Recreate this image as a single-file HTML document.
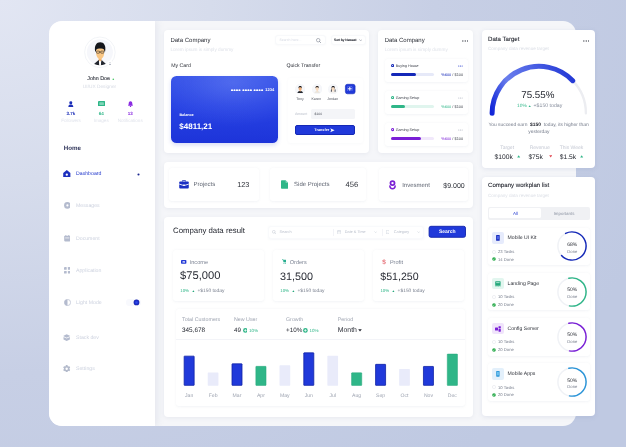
<!DOCTYPE html>
<html lang="en"><head><meta charset="utf-8"><title>Dashboard</title>
<style>
html,body{margin:0;padding:0}
body{width:626px;height:447px;position:relative;overflow:hidden;font-family:"Liberation Sans",sans-serif;
background:radial-gradient(ellipse 112% 135% at 0% 0%,#e2e6f3 0%,#d6dcec 30%,#c7cfe5 62%,#bfc9e2 100%);}
.b{position:absolute;box-sizing:border-box}
.t{position:absolute;white-space:nowrap;line-height:1;letter-spacing:0;text-rendering:geometricPrecision}
.card{position:absolute;background:#fff;border-radius:4px;box-shadow:0 1px 4px rgba(120,130,160,.10)}
.inner{position:absolute;box-sizing:border-box;background:#fff;border-radius:3px;box-shadow:0 0.5px 2.5px rgba(120,130,165,.085)}
</style></head><body><div id="root" style="position:absolute;left:0;top:0;width:626px;height:447px;will-change:transform">
<div class="b" style="left:49px;top:21px;width:526.5px;height:404.5px;border-radius:13px;background:#f5f6f9;overflow:hidden">
<div class="b" style="left:0;top:0;width:106px;height:404.5px;background:#fff;box-shadow:2px 0 7px rgba(140,150,180,.16)"></div>
</div>
<svg class="b" style="left:80px;top:33px;" width="40" height="40" viewBox="80 33 40 40">
<circle cx="99.9" cy="52.3" r="15.3" fill="#fff" stroke="#eff1f5" stroke-width="0.8"/>
<circle cx="99.9" cy="52.3" r="13" fill="#f6f7fb"/>
<clipPath id="av"><circle cx="99.9" cy="52.3" r="13"/></clipPath>
<g clip-path="url(#av)">
<path d="M93.3 65.9 L93.5 64.4 L98.9 59.7 L99.5 65.9 Z" fill="#22262e"/>
<path d="M106.7 65.9 L106.5 64.4 L101.3 59.7 L100.7 65.9 Z" fill="#22262e"/>
<path d="M98.9 59.7 L101.3 59.7 L100.7 65.9 L99.5 65.9 Z" fill="#fff"/>
<path d="M98.7 57.4 H101.5 V60.2 L100.1 61.6 L98.7 60.2 Z" fill="#f2b26c"/>
<path d="M96.1 50.2 C96.1 47.4 104.2 47.4 104.2 50.2 L104.1 54 C103.9 57 101.6 59.2 100.15 59.2 C98.7 59.2 96.4 57 96.2 54 Z" fill="#f9c684"/>
<path d="M95.2 51.6 C94 45.6 96.6 42.3 100.2 42.3 C103.9 42.3 106.3 45.6 105.1 51.6 L104.3 51.6 C104.5 49.2 103.6 48.3 100.2 48.5 C96.9 48.3 95.8 49.2 96 51.6 Z" fill="#14161b"/>
<rect x="96.5" y="51.1" width="3" height="2.1" rx="0.5" fill="none" stroke="#15171c" stroke-width="0.5"/>
<rect x="100.8" y="51.1" width="3" height="2.1" rx="0.5" fill="none" stroke="#15171c" stroke-width="0.5"/>
<path d="M99.5 52 H100.8" stroke="#15171c" stroke-width="0.4"/>
</g>
<circle cx="110" cy="63.6" r="2.9" fill="#fff"/>
<circle cx="110" cy="62.7" r="0.55" fill="#a7adba"/><path d="M109 64.9 C109 63.6 111 63.6 111 64.9 Z" fill="#a7adba"/>
</svg>
<span class="t" style="left:98.6px;top:79.5px;font-size:5.3px;color:#343842;font-weight:400;transform:translate(-50%,-50%);-webkit-text-stroke:0.12px currentColor;">John Doe</span>
<svg class="b" style="left:112.1px;top:77.5px;" width="2.6" height="2.6" viewBox="0 0 2.6 2.6"><circle cx="1.3" cy="1.25" r="0.8" fill="#4cc86a"/></svg>
<span class="t" style="left:99.5px;top:88.0px;font-size:4.8px;color:#d5d9e3;font-weight:400;transform:translate(-50%,-50%);">UI/UX Designer</span>
<svg class="b" style="left:68.1px;top:100.5px;" width="5.6" height="6.4" viewBox="0 0 5.6 6.4"><circle cx="2.8" cy="1.65" r="1.5" fill="#1c2fb8"/><path d="M0.3 6.1 C0.3 4 1.5 3.5 2.8 3.5 C4.1 3.5 5.3 4 5.3 6.1 Z" fill="#1c2fb8"/></svg>
<svg class="b" style="left:97.7px;top:100.7px;" width="7.2" height="5.8" viewBox="0 0 7.2 5.8"><rect x="0" y="0" width="7.2" height="5.8" rx="0.9" fill="#2fb688"/><rect x="1.3" y="1.3" width="4.6" height="2.6" rx="0.5" fill="#7fd6b8"/></svg>
<svg class="b" style="left:127.9px;top:100.5px;" width="5" height="6.4" viewBox="0 0 5 6.4"><path d="M2.5 0.2 C3.9 0.2 4.3 1.4 4.3 2.5 C4.3 3.7 4.8 4.2 4.9 4.7 L0.1 4.7 C0.2 4.2 0.7 3.7 0.7 2.5 C0.7 1.4 1.1 0.2 2.5 0.2 Z" fill="#8a2be2"/><circle cx="2.5" cy="5.5" r="0.7" fill="#8a2be2"/></svg>
<span class="t" style="left:71px;top:113.8px;font-size:4.5px;color:#1c2fb8;font-weight:700;transform:translate(-50%,-50%);">3.7k</span>
<span class="t" style="left:101.2px;top:113.8px;font-size:4.5px;color:#2fb688;font-weight:700;transform:translate(-50%,-50%);">64</span>
<span class="t" style="left:130.2px;top:113.8px;font-size:4.5px;color:#8a2be2;font-weight:700;transform:translate(-50%,-50%);">13</span>
<span class="t" style="left:71px;top:121.0px;font-size:4.6px;color:#e1e4ec;font-weight:400;transform:translate(-50%,-50%);">Followers</span>
<span class="t" style="left:101.2px;top:121.0px;font-size:4.6px;color:#e1e4ec;font-weight:400;transform:translate(-50%,-50%);">Images</span>
<span class="t" style="left:130.2px;top:121.0px;font-size:4.6px;color:#e1e4ec;font-weight:400;transform:translate(-50%,-50%);">Notifications</span>
<span class="t" style="left:63.7px;top:148.5px;font-size:6.2px;color:#30355a;font-weight:700;transform:translate(0,-50%);">Home</span>
<svg class="b" style="left:63.4px;top:169.5px;" width="7.6" height="7.8" viewBox="0 0 7.6 7.8"><path d="M3.8 0.1 L7.4 3.1 L7.4 6.8 Q7.4 7.5 6.7 7.5 L0.9 7.5 Q0.2 7.5 0.2 6.8 L0.2 3.1 Z" fill="#1c2fbe"/><circle cx="3.8" cy="4.7" r="1.15" fill="#fff"/></svg>
<span class="t" style="left:76px;top:174.8px;font-size:5.2px;color:#2238cc;font-weight:400;transform:translate(0,-50%);">Dashboard</span>
<svg class="b" style="left:137px;top:172.6px;" width="3" height="3" viewBox="0 0 3 3"><circle cx="1.5" cy="1.5" r="1.05" fill="#18258f"/></svg>
<svg class="b" style="left:63.6px;top:202.1px;" width="6.8" height="6.8" viewBox="0 0 6.8 6.8"><circle cx="3.4" cy="3.4" r="3.3" fill="#b4bbce"/><circle cx="3.4" cy="3.4" r="1.1" fill="#fff"/></svg>
<span class="t" style="left:76px;top:207.4px;font-size:5.2px;color:#cdd2df;font-weight:400;transform:translate(0,-50%);">Messages</span>
<svg class="b" style="left:63.8px;top:235.4px;" width="6.6" height="6.6" viewBox="0 0 6.6 6.6"><rect x="0.2" y="0.8" width="6.2" height="5.6" rx="0.8" fill="#b4bbce"/><rect x="1.2" y="2.6" width="4.2" height="0.7" fill="#fff"/><rect x="1.4" y="0" width="0.9" height="1.6" rx="0.3" fill="#b4bbce"/><rect x="4.3" y="0" width="0.9" height="1.6" rx="0.3" fill="#b4bbce"/></svg>
<span class="t" style="left:76px;top:240.3px;font-size:5.2px;color:#cdd2df;font-weight:400;transform:translate(0,-50%);">Document</span>
<svg class="b" style="left:63.8px;top:267.4px;" width="6.6" height="6.6" viewBox="0 0 6.6 6.6"><rect x="0" y="0" width="2.7" height="2.7" rx="0.5" fill="#b4bbce"/><rect x="3.9" y="0" width="2.7" height="2.7" rx="0.5" fill="#b4bbce"/><rect x="0" y="3.9" width="2.7" height="2.7" rx="0.5" fill="#b4bbce"/><rect x="3.9" y="3.9" width="2.7" height="2.7" rx="0.5" fill="#b4bbce"/></svg>
<span class="t" style="left:76px;top:272.3px;font-size:5.2px;color:#cdd2df;font-weight:400;transform:translate(0,-50%);">Application</span>
<svg class="b" style="left:63.6px;top:299px;" width="7" height="7" viewBox="0 0 7 7"><circle cx="3.5" cy="3.5" r="3.1" fill="none" stroke="#b4bbce" stroke-width="0.7"/><path d="M3.5 0.4 A3.1 3.1 0 0 0 3.5 6.6 Z" fill="#b4bbce"/></svg>
<span class="t" style="left:76px;top:304.0px;font-size:5.2px;color:#cdd2df;font-weight:400;transform:translate(0,-50%);">Light Mode</span>
<div class="b" style="left:125.6px;top:299.2px;width:15.6px;height:6.6px;border-radius:3.3px;background:#f8f9fd"></div>
<svg class="b" style="left:133px;top:298.8px;" width="7" height="7" viewBox="0 0 7 7"><defs><radialGradient id="kn"><stop offset="0" stop-color="#3350ec"/><stop offset="0.45" stop-color="#2238d8"/><stop offset="1" stop-color="#1420ac"/></radialGradient></defs><circle cx="3.5" cy="3.45" r="2.85" fill="url(#kn)"/></svg>
<svg class="b" style="left:63.4px;top:334px;" width="7.4" height="7.2" viewBox="0 0 7.4 7.2"><path d="M3.7 0.2 L7.3 2 L3.7 3.8 L0.1 2 Z" fill="#b4bbce"/><path d="M0.5 3 L3.7 4.6 L6.9 3 L6.9 5.4 L3.7 7 L0.5 5.4 Z" fill="#b4bbce"/></svg>
<span class="t" style="left:76px;top:339.2px;font-size:5.2px;color:#cdd2df;font-weight:400;transform:translate(0,-50%);">Stack dev</span>
<svg class="b" style="left:63.4px;top:364.6px;" width="7.4" height="7.4" viewBox="0 0 7.4 7.4"><g transform="translate(3.7 3.7)"><g fill="#b3bacb"><rect x="-0.9" y="-3.6" width="1.8" height="7.2" rx="0.4"/><rect x="-0.9" y="-3.6" width="1.8" height="7.2" rx="0.4" transform="rotate(60)"/><rect x="-0.9" y="-3.6" width="1.8" height="7.2" rx="0.4" transform="rotate(120)"/><circle r="2.7"/></g><circle r="1.2" fill="#fff"/></g></svg>
<span class="t" style="left:76px;top:369.8px;font-size:5.2px;color:#cdd2df;font-weight:400;transform:translate(0,-50%);">Settings</span>
<div class="card" style="left:164px;top:30px;width:205.3px;height:123.3px"></div>
<span class="t" style="left:170.4px;top:41.3px;font-size:6px;color:#2d3038;font-weight:400;transform:translate(0,-50%);">Data Company</span>
<span class="t" style="left:170.4px;top:50.0px;font-size:4.7px;color:#dfe2e9;font-weight:400;transform:translate(0,-50%);">Lorem ipsum is simply dummy</span>
<div class="b" style="left:275px;top:35px;width:50.6px;height:10.2px;border:1px solid #f8f9fb;border-radius:3px;background:#fff;box-shadow:0 0.5px 1.5px rgba(120,130,165,.05)"></div>
<span class="t" style="left:279.4px;top:40.9px;font-size:3.5px;color:#d7dbe4;font-weight:400;transform:translate(0,-50%);">Search here...</span>
<svg class="b" style="left:316px;top:37.7px;" width="5.4" height="5.4" viewBox="0 0 5.4 5.4"><circle cx="2.2" cy="2.2" r="1.75" fill="none" stroke="#757c8b" stroke-width="0.55"/><path d="M3.5 3.5 L5 5" stroke="#757c8b" stroke-width="0.6" stroke-linecap="round"/></svg>
<div class="b" style="left:331px;top:35px;width:34.6px;height:10.2px;border:1px solid #f8f9fb;border-radius:3px;background:#fff;box-shadow:0 0.5px 1.5px rgba(120,130,165,.05)"></div>
<span class="t" style="left:334px;top:40.9px;font-size:3.3px;color:#2a2d36;font-weight:400;transform:translate(0,-50%);-webkit-text-stroke:0.15px currentColor;">Sort by Newest</span>
<svg class="b" style="left:358.6px;top:39.2px;" width="3.4" height="2.6" viewBox="0 0 3.4 2.6"><path d="M0.5 0.6 L1.7 1.9 L2.9 0.6" fill="none" stroke="#7a8190" stroke-width="0.5" stroke-linecap="round" stroke-linejoin="round"/></svg>
<span class="t" style="left:171.2px;top:66.8px;font-size:5.2px;color:#2d3038;font-weight:400;transform:translate(0,-50%);">My Card</span>
<span class="t" style="left:286.4px;top:66.8px;font-size:5.2px;color:#2d3038;font-weight:400;transform:translate(0,-50%);">Quick Transfer</span>
<div class="b" style="left:171.3px;top:75.7px;width:106.8px;height:67.1px;border-radius:5.5px;background:radial-gradient(ellipse 75% 65% at 58% 10%,rgba(120,145,248,.42) 0%,rgba(120,145,248,.16) 55%,rgba(120,145,248,0) 100%),linear-gradient(180deg,#3450e7 0%,#2742e3 45%,#1d34d9 100%);box-shadow:0 2px 4px rgba(40,60,200,.18)"></div>
<svg class="b" style="left:231.1px;top:88.5px;" width="33" height="2.4" viewBox="0 0 33 2.4"><circle cx="0.95" cy="1.2" r="1.05" fill="#fff"/><circle cx="3.45" cy="1.2" r="1.05" fill="#fff"/><circle cx="5.95" cy="1.2" r="1.05" fill="#fff"/><circle cx="8.45" cy="1.2" r="1.05" fill="#fff"/><circle cx="12.40" cy="1.2" r="1.05" fill="#fff"/><circle cx="14.90" cy="1.2" r="1.05" fill="#fff"/><circle cx="17.40" cy="1.2" r="1.05" fill="#fff"/><circle cx="19.90" cy="1.2" r="1.05" fill="#fff"/><circle cx="23.65" cy="1.2" r="1.05" fill="#fff"/><circle cx="26.15" cy="1.2" r="1.05" fill="#fff"/><circle cx="28.65" cy="1.2" r="1.05" fill="#fff"/><circle cx="31.15" cy="1.2" r="1.05" fill="#fff"/></svg>
<span class="t" style="left:274.2px;top:90.2px;font-size:4px;color:#fff;font-weight:700;transform:translate(-100%,-50%);">1234</span>
<span class="t" style="left:179.4px;top:116.0px;font-size:3.7px;color:#fff;font-weight:700;transform:translate(0,-50%);">Balance</span>
<span class="t" style="left:179.3px;top:127.1px;font-size:8px;color:#fff;font-weight:700;transform:translate(0,-50%);">$4811,21</span>
<div class="b" style="left:288px;top:77.5px;width:74.5px;height:65.5px;border-radius:3px;box-shadow:0 0.5px 2.5px rgba(120,130,165,.045)"></div>
<svg class="b" style="left:294.5px;top:84.0px;" width="10.4" height="10.4" viewBox="0 0 10.4 10.4"><g transform="translate(0.2 0.2)"><circle cx="5.0" cy="5.0" r="5.0" fill="#f6f7fa" stroke="#eff1f5" stroke-width="0.3"/>
<clipPath id="c299"><circle cx="5.0" cy="5.0" r="5.0"/></clipPath><g clip-path="url(#c299)">
<path d="M2.3 8.8 C2.4 7.3 3.6 6.9 5.0 6.9 C6.4 6.9 7.6 7.3 7.7 8.8 Z" fill="#23272f"/>

<rect x="4.45" y="5.6" width="1.1" height="1.7" fill="#eeb07c"/>
<ellipse cx="5.0" cy="4.5" rx="1.55" ry="1.9" fill="#eeb07c"/>
<path d="M3.3 4.4 C3.0 2.1 4.1 1.7000000000000002 5.0 1.7000000000000002 C5.9 1.7000000000000002 7.0 2.1 6.7 4.4 C6.5 3.3 6.1 3.1 5.0 3.1 C3.9 3.1 3.5 3.3 3.3 4.4 Z" fill="#17181c"/></g></g></svg>
<svg class="b" style="left:311.8px;top:84.0px;" width="10.4" height="10.4" viewBox="0 0 10.4 10.4"><g transform="translate(0.2 0.2)"><circle cx="5.0" cy="5.0" r="5.0" fill="#f6f7fa" stroke="#eff1f5" stroke-width="0.3"/>
<clipPath id="c317"><circle cx="5.0" cy="5.0" r="5.0"/></clipPath><g clip-path="url(#c317)">
<path d="M2.3 8.8 C2.4 7.3 3.6 6.9 5.0 6.9 C6.4 6.9 7.6 7.3 7.7 8.8 Z" fill="#ebe7e0"/>

<rect x="4.45" y="5.6" width="1.1" height="1.7" fill="#f9dcc0"/>
<ellipse cx="5.0" cy="4.5" rx="1.55" ry="1.9" fill="#f9dcc0"/>
<path d="M3.3 4.4 C3.0 2.1 4.1 1.7000000000000002 5.0 1.7000000000000002 C5.9 1.7000000000000002 7.0 2.1 6.7 4.4 C6.5 3.3 6.1 3.1 5.0 3.1 C3.9 3.1 3.5 3.3 3.3 4.4 Z" fill="#2e2622"/></g></g></svg>
<svg class="b" style="left:327.6px;top:84.0px;" width="10.4" height="10.4" viewBox="0 0 10.4 10.4"><g transform="translate(0.2 0.2)"><circle cx="5.0" cy="5.0" r="5.0" fill="#f6f7fa" stroke="#eff1f5" stroke-width="0.3"/>
<clipPath id="c332"><circle cx="5.0" cy="5.0" r="5.0"/></clipPath><g clip-path="url(#c332)">
<path d="M2.3 8.8 C2.4 7.3 3.6 6.9 5.0 6.9 C6.4 6.9 7.6 7.3 7.7 8.8 Z" fill="#f3f1ee"/>
<path d="M2.7 7.6 C2.1 1.7999999999999998 7.9 1.7999999999999998 7.3 7.6 L6.5 7.6 L6.5 4.4 L3.5 4.4 L3.5 7.6 Z" fill="#1b1c21"/>
<rect x="4.45" y="5.6" width="1.1" height="1.7" fill="#f9dcc0"/>
<ellipse cx="5.0" cy="4.5" rx="1.55" ry="1.9" fill="#f9dcc0"/>
<path d="M3.3 4.4 C3.0 2.1 4.1 1.7000000000000002 5.0 1.7000000000000002 C5.9 1.7000000000000002 7.0 2.1 6.7 4.4 C6.5 3.3 6.1 3.1 5.0 3.1 C3.9 3.1 3.5 3.3 3.3 4.4 Z" fill="#1b1c21"/></g></g></svg>
<svg class="b" style="left:344px;top:82.5px;" width="12.4" height="12" viewBox="0 0 12.4 12"><rect x="1.4" y="1.3" width="9.7" height="9.5" rx="2" fill="#2039da" stroke="#1428b6" stroke-width="0.6"/></svg>
<svg class="b" style="left:347.4px;top:85.75px;" width="5.6" height="5.6" viewBox="0 0 5.6 5.6"><rect x="0.3" y="0.3" width="5" height="5" rx="1.3" fill="none" stroke="#9aa9f2" stroke-width="0.4"/><path d="M2.8 1.3 V4.3 M1.3 2.8 H4.3" stroke="#fff" stroke-width="0.95" stroke-linecap="round"/></svg>
<span class="t" style="left:300px;top:99.5px;font-size:3.5px;color:#4a4e59;font-weight:400;transform:translate(-50%,-50%);">Tony</span>
<span class="t" style="left:316.2px;top:99.5px;font-size:3.5px;color:#4a4e59;font-weight:400;transform:translate(-50%,-50%);">Karen</span>
<span class="t" style="left:332.7px;top:99.5px;font-size:3.5px;color:#4a4e59;font-weight:400;transform:translate(-50%,-50%);">Jordan</span>
<span class="t" style="left:294.9px;top:115.4px;font-size:3.6px;color:#b9bec9;font-weight:400;transform:translate(0,-50%);">Amount</span>
<div class="b" style="left:311px;top:108.7px;width:44.3px;height:10.3px;border-radius:1.6px;background:#f4f5f8"></div>
<span class="t" style="left:314.6px;top:115.4px;font-size:3.4px;color:#4a4e59;font-weight:400;transform:translate(0,-50%);">$100</span>
<div class="b" style="left:294.9px;top:125.3px;width:60.4px;height:9.7px;border-radius:2px;background:#2039da;border:0.6px solid #1428b6"></div>
<span class="t" style="left:321.8px;top:130.8px;font-size:3.8px;color:#fff;font-weight:700;transform:translate(-50%,-50%);">Transfer</span>
<svg class="b" style="left:330.4px;top:128px;" width="4.8" height="4.6" viewBox="0 0 4.8 4.6"><path d="M0.2 0.3 L4.6 2.3 L0.2 4.3 L1.3 2.3 Z" fill="#fff"/></svg>
<div class="card" style="left:378.3px;top:30px;width:95px;height:123.3px"></div>
<span class="t" style="left:384.7px;top:41.3px;font-size:6px;color:#2d3038;font-weight:400;transform:translate(0,-50%);">Data Company</span>
<span class="t" style="left:384.7px;top:50.0px;font-size:4.7px;color:#dfe2e9;font-weight:400;transform:translate(0,-50%);">Lorem ipsum is simply dummy</span>
<svg class="b" style="left:461.6px;top:39.6px;" width="6.5" height="2" viewBox="0 0 6.5 2"><circle cx="0.8500000000000001" cy="1" r="0.65" fill="#3a3e48"/><circle cx="3.25" cy="1" r="0.65" fill="#3a3e48"/><circle cx="5.65" cy="1" r="0.65" fill="#3a3e48"/></svg>
<div class="inner" style="left:384.7px;top:58.6px;width:83px;height:23.2px"></div>
<svg class="b" style="left:390.6px;top:64.3px;" width="3.2" height="3.2" viewBox="0 0 3.2 3.2"><circle cx="1.6" cy="1.6" r="1.05" fill="#fff" stroke="#1428b8" stroke-width="1.05"/></svg>
<span class="t" style="left:395.7px;top:67.4px;font-size:3.7px;color:#3a3e48;font-weight:400;transform:translate(0,-50%);">Buying House</span>
<svg class="b" style="left:458.2px;top:65.3px;" width="4.9" height="2" viewBox="0 0 4.9 2"><circle cx="0.75" cy="1" r="0.55" fill="#2a3fd0"/><circle cx="2.45" cy="1" r="0.55" fill="#2a3fd0"/><circle cx="4.15" cy="1" r="0.55" fill="#2a3fd0"/></svg>
<div class="b" style="left:390.6px;top:72.8px;width:43.7px;height:3px;border-radius:1.5px;background:#e6e9f8"></div>
<div class="b" style="left:390.6px;top:72.8px;width:25.2px;height:3px;border-radius:1.5px;background:#1428b8"></div>
<span class="t" style="left:441.3px;top:74.9px;font-size:3.9px;color:#3a3e48;font-weight:400;transform:translate(0,-50%);"><span style="color:#1428b8">%600</span> / $100</span>
<div class="inner" style="left:384.7px;top:90.6px;width:83px;height:23.2px"></div>
<svg class="b" style="left:390.6px;top:96.3px;" width="3.2" height="3.2" viewBox="0 0 3.2 3.2"><circle cx="1.6" cy="1.6" r="1.05" fill="#fff" stroke="#2fb688" stroke-width="1.05"/></svg>
<span class="t" style="left:395.7px;top:99.4px;font-size:3.7px;color:#3a3e48;font-weight:400;transform:translate(0,-50%);">Gaming Setup</span>
<svg class="b" style="left:458.2px;top:97.3px;" width="4.9" height="2" viewBox="0 0 4.9 2"><circle cx="0.75" cy="1" r="0.55" fill="#b5bac6"/><circle cx="2.45" cy="1" r="0.55" fill="#b5bac6"/><circle cx="4.15" cy="1" r="0.55" fill="#b5bac6"/></svg>
<div class="b" style="left:390.6px;top:104.8px;width:43.7px;height:3px;border-radius:1.5px;background:#e0f5ee"></div>
<div class="b" style="left:390.6px;top:104.8px;width:14.6px;height:3px;border-radius:1.5px;background:#2fb688"></div>
<span class="t" style="left:441.3px;top:106.9px;font-size:3.9px;color:#3a3e48;font-weight:400;transform:translate(0,-50%);"><span style="color:#2fb688">%600</span> / $100</span>
<div class="inner" style="left:384.7px;top:122.7px;width:83px;height:23.2px"></div>
<svg class="b" style="left:390.6px;top:128.4px;" width="3.2" height="3.2" viewBox="0 0 3.2 3.2"><circle cx="1.6" cy="1.6" r="1.05" fill="#fff" stroke="#7a1fd6" stroke-width="1.05"/></svg>
<span class="t" style="left:395.7px;top:130.5px;font-size:3.7px;color:#3a3e48;font-weight:400;transform:translate(0,-50%);">Gaming Setup</span>
<svg class="b" style="left:458.2px;top:129.4px;" width="4.9" height="2" viewBox="0 0 4.9 2"><circle cx="0.75" cy="1" r="0.55" fill="#b5bac6"/><circle cx="2.45" cy="1" r="0.55" fill="#b5bac6"/><circle cx="4.15" cy="1" r="0.55" fill="#b5bac6"/></svg>
<div class="b" style="left:390.6px;top:136.9px;width:43.7px;height:3px;border-radius:1.5px;background:#f1e8fb"></div>
<div class="b" style="left:390.6px;top:136.9px;width:30.3px;height:3px;border-radius:1.5px;background:#7a1fd6"></div>
<span class="t" style="left:441.3px;top:139.0px;font-size:3.9px;color:#3a3e48;font-weight:400;transform:translate(0,-50%);"><span style="color:#7a1fd6">%600</span> / $100</span>
<div class="card" style="left:164px;top:162px;width:309.3px;height:46px"></div>
<div class="inner" style="left:169.3px;top:168px;width:90px;height:33px"></div>
<div class="inner" style="left:270.3px;top:168px;width:96px;height:33px"></div>
<div class="inner" style="left:379px;top:168px;width:88.8px;height:33px"></div>
<svg class="b" style="left:178.6px;top:180.2px;" width="10" height="8.6" viewBox="0 0 10 8.6"><path d="M3.4 1.6 V0.9 Q3.4 0.4 3.9 0.4 H6.1 Q6.6 0.4 6.6 0.9 V1.6" fill="none" stroke="#1428b6" stroke-width="0.8"/><rect x="0.2" y="1.6" width="9.6" height="6.8" rx="0.9" fill="#1b30c4"/><path d="M0.2 4.1 L4 5.3 L6 5.3 L9.8 4.1" fill="none" stroke="#fff" stroke-width="0.85"/><rect x="4.2" y="4.6" width="1.6" height="1.5" rx="0.3" fill="#fff"/></svg>
<span class="t" style="left:193.6px;top:185.1px;font-size:6px;color:#5d6370;font-weight:400;transform:translate(0,-50%);">Projects</span>
<span class="t" style="left:237.2px;top:185.3px;font-size:7.3px;color:#2d3038;font-weight:400;transform:translate(0,-50%);">123</span>
<svg class="b" style="left:280.7px;top:180px;" width="7.4" height="9" viewBox="0 0 7.4 9"><path d="M0.8 0.2 H4.6 L7.2 2.8 V8 Q7.2 8.8 6.4 8.8 H0.8 Q0 8.8 0 8 V1 Q0 0.2 0.8 0.2 Z" fill="#2fb688"/><path d="M4.6 0.2 L7.2 2.8 H5.2 Q4.6 2.8 4.6 2.2 Z" fill="#8fdcc0"/></svg>
<span class="t" style="left:294.1px;top:185.1px;font-size:6px;color:#5d6370;font-weight:400;transform:translate(0,-50%);">Side Projects</span>
<span class="t" style="left:345.5px;top:185.3px;font-size:7.6px;color:#2d3038;font-weight:400;transform:translate(0,-50%);">456</span>
<svg class="b" style="left:389.2px;top:180px;" width="7" height="10" viewBox="0 0 7 10"><circle cx="3.5" cy="3.05" r="2.05" fill="none" stroke="#7b22d4" stroke-width="1.75"/><path d="M0.85 6 C1 9.6 6 9.6 6.15 6" fill="none" stroke="#7b22d4" stroke-width="1.5" stroke-linecap="round"/></svg>
<span class="t" style="left:402.2px;top:186.4px;font-size:6px;color:#5d6370;font-weight:400;transform:translate(0,-50%);">Invesment</span>
<span class="t" style="left:443.3px;top:186.4px;font-size:7px;color:#2d3038;font-weight:400;transform:translate(0,-50%);">$9.000</span>
<div class="card" style="left:164px;top:217px;width:309.3px;height:200.3px"></div>
<span class="t" style="left:173px;top:231.4px;font-size:7.8px;color:#23262f;font-weight:400;transform:translate(0,-50%);">Company data result</span>
<div class="b" style="left:267.9px;top:225.8px;width:156px;height:13px;border:1px solid #f9fafc;border-radius:3px;background:#fff;box-shadow:0 0.5px 2px rgba(120,130,165,.06)"></div>
<svg class="b" style="left:271.6px;top:229.8px;" width="4.4" height="4.4" viewBox="0 0 4.4 4.4"><circle cx="1.8" cy="1.8" r="1.4" fill="none" stroke="#b9bfcc" stroke-width="0.45"/><path d="M2.9 2.9 L4.1 4.1" stroke="#b9bfcc" stroke-width="0.45" stroke-linecap="round"/></svg>
<span class="t" style="left:279.6px;top:232.6px;font-size:3.8px;color:#b9bfcb;font-weight:400;transform:translate(0,-50%);">Search</span>
<div class="b" style="left:332.6px;top:229px;width:0.5px;height:6.6px;background:#f2f3f7"></div>
<svg class="b" style="left:336.6px;top:229.8px;" width="4.2" height="4.4" viewBox="0 0 4.2 4.4"><rect x="0.3" y="0.7" width="3.6" height="3.4" rx="0.5" fill="none" stroke="#c3c8d3" stroke-width="0.45"/><path d="M0.3 1.8 H3.9 M1.2 0.1 V1 M3 0.1 V1" stroke="#c3c8d3" stroke-width="0.45"/></svg>
<span class="t" style="left:344.8px;top:232.6px;font-size:3.8px;color:#b9bfcb;font-weight:400;transform:translate(0,-50%);">Date &amp; Time</span>
<svg class="b" style="left:374px;top:231.2px;" width="3.4" height="2.2" viewBox="0 0 3.4 2.2"><path d="M0.4 0.4 L1.7 1.7 L3 0.4" fill="none" stroke="#c3c8d3" stroke-width="0.45"/></svg>
<div class="b" style="left:381.6px;top:229px;width:0.5px;height:6.6px;background:#f2f3f7"></div>
<svg class="b" style="left:385.8px;top:229.8px;" width="3.6" height="4.4" viewBox="0 0 3.6 4.4"><path d="M0.3 0.3 H3.3 V4 L1.8 3.2 L0.3 4 Z" fill="none" stroke="#c3c8d3" stroke-width="0.45"/></svg>
<span class="t" style="left:393.8px;top:232.6px;font-size:3.8px;color:#b9bfcb;font-weight:400;transform:translate(0,-50%);">Category</span>
<svg class="b" style="left:416.6px;top:231.2px;" width="3.4" height="2.2" viewBox="0 0 3.4 2.2"><path d="M0.4 0.4 L1.7 1.7 L3 0.4" fill="none" stroke="#c3c8d3" stroke-width="0.45"/></svg>
<svg class="b" style="left:427px;top:224px;" width="41" height="16" viewBox="0 0 41 16"><rect x="2.1" y="2.3" width="36.4" height="11" rx="1.8" fill="#2039da" stroke="#1124ac" stroke-width="0.9"/></svg>
<span class="t" style="left:447.3px;top:232.4px;font-size:5px;color:#fff;font-weight:700;transform:translate(-50%,-50%);">Search</span>
<div class="inner" style="left:173px;top:250px;width:91.3px;height:50.5px"></div>
<svg class="b" style="left:181.4px;top:259.6px" width="5.4" height="4" viewBox="0 0 5.4 4"><rect x="0" y="0" width="5.4" height="3.8" rx="0.8" fill="#2239d6"/><rect x="1.6" y="1.05" width="2.2" height="1.7" rx="0.55" fill="#fff"/><circle cx="2.7" cy="1.9" r="0.5" fill="#2239d6"/></svg>
<span class="t" style="left:189.7px;top:263.5px;font-size:5.6px;color:#7d8494;font-weight:400;transform:translate(0,-50%);">Income</span>
<span class="t" style="left:180.1px;top:276.8px;font-size:11.2px;color:#292c35;font-weight:400;transform:translate(0,-50%);">$75,000</span>
<span class="t" style="left:180.2px;top:291.3px;font-size:4.4px;color:#2fb688;font-weight:400;transform:translate(0,-50%);">10%</span>
<svg class="b" style="left:191.8px;top:289.6px;" width="2.8" height="2.4" viewBox="0 0 2.8 2.4"><path d="M1.4 0.3 L2.6 2.2 L0.2 2.2 Z" fill="#27a87c"/></svg>
<span class="t" style="left:197.4px;top:292.3px;font-size:4.9px;color:#757c8b;font-weight:400;transform:translate(0,-50%);">+$150 today</span>
<div class="inner" style="left:273px;top:250px;width:91.3px;height:50.5px"></div>
<svg class="b" style="left:281.6px;top:259.3px" width="4.8" height="5" viewBox="0 0 5.4 5.4"><path d="M0.1 0.3 L1.1 0.3 L1.9 3.4 L4.5 3.4 L5.2 1 L1.4 1" fill="#27ae90" stroke="#27ae90" stroke-width="0.5" stroke-linejoin="round"/><circle cx="2.2" cy="4.6" r="0.6" fill="#27ae90"/><circle cx="4.2" cy="4.6" r="0.6" fill="#27ae90"/></svg>
<span class="t" style="left:289.7px;top:263.5px;font-size:5.6px;color:#7d8494;font-weight:400;transform:translate(0,-50%);">Orders</span>
<span class="t" style="left:280.1px;top:276.8px;font-size:10.8px;color:#292c35;font-weight:400;transform:translate(0,-50%);">31,500</span>
<span class="t" style="left:280.2px;top:291.3px;font-size:4.4px;color:#2fb688;font-weight:400;transform:translate(0,-50%);">10%</span>
<svg class="b" style="left:291.8px;top:289.6px;" width="2.8" height="2.4" viewBox="0 0 2.8 2.4"><path d="M1.4 0.3 L2.6 2.2 L0.2 2.2 Z" fill="#27a87c"/></svg>
<span class="t" style="left:297.4px;top:292.3px;font-size:4.9px;color:#757c8b;font-weight:400;transform:translate(0,-50%);">+$150 today</span>
<div class="inner" style="left:373.2px;top:250px;width:91.3px;height:50.5px"></div>
<span class="t" style="left:382.3px;top:262.7px;font-size:6.4px;color:#e0505a;font-weight:400;transform:translate(0,-50%)">$</span>
<span class="t" style="left:389.9px;top:263.5px;font-size:5.6px;color:#7d8494;font-weight:400;transform:translate(0,-50%);">Profit</span>
<span class="t" style="left:380.3px;top:276.8px;font-size:10.6px;color:#292c35;font-weight:400;transform:translate(0,-50%);">$51,250</span>
<span class="t" style="left:380.4px;top:291.3px;font-size:4.4px;color:#2fb688;font-weight:400;transform:translate(0,-50%);">10%</span>
<svg class="b" style="left:392.0px;top:289.6px;" width="2.8" height="2.4" viewBox="0 0 2.8 2.4"><path d="M1.4 0.3 L2.6 2.2 L0.2 2.2 Z" fill="#27a87c"/></svg>
<span class="t" style="left:397.59999999999997px;top:292.3px;font-size:4.9px;color:#757c8b;font-weight:400;transform:translate(0,-50%);">+$150 today</span>
<div class="inner" style="left:175.6px;top:309px;width:289px;height:96.6px"></div>
<div class="b" style="left:175.6px;top:339px;width:289px;height:0.5px;background:#f3f4f8"></div>
<span class="t" style="left:182px;top:320.8px;font-size:5.3px;color:#9ea4b1;font-weight:400;transform:translate(0,-50%);">Total Customers</span>
<span class="t" style="left:182px;top:330.7px;font-size:6.4px;color:#292c35;font-weight:400;transform:translate(0,-50%);">345,678</span>
<span class="t" style="left:234px;top:320.8px;font-size:5.3px;color:#9ea4b1;font-weight:400;transform:translate(0,-50%);">New User</span>
<span class="t" style="left:234px;top:330.7px;font-size:6.3px;color:#292c35;font-weight:400;transform:translate(0,-50%);">49</span>
<svg class="b" style="left:242.5px;top:327.8px;" width="4.8" height="4.8" viewBox="0 0 4.8 4.8"><circle cx="2.4" cy="2.4" r="2.35" fill="#2fb688"/><path d="M2.4 1.1 V3.7 M1.1 2.4 H3.7" stroke="#fff" stroke-width="0.7"/></svg>
<span class="t" style="left:248.9px;top:330.8px;font-size:4.5px;color:#2fb688;font-weight:400;transform:translate(0,-50%);">10%</span>
<span class="t" style="left:286px;top:320.8px;font-size:5.3px;color:#9ea4b1;font-weight:400;transform:translate(0,-50%);">Growth</span>
<span class="t" style="left:286px;top:330.7px;font-size:6.3px;color:#292c35;font-weight:400;transform:translate(0,-50%);">+10%</span>
<svg class="b" style="left:303.09999999999997px;top:327.8px;" width="4.8" height="4.8" viewBox="0 0 4.8 4.8"><circle cx="2.4" cy="2.4" r="2.35" fill="#2fb688"/><path d="M2.4 1.1 V3.7 M1.1 2.4 H3.7" stroke="#fff" stroke-width="0.7"/></svg>
<span class="t" style="left:309.4px;top:330.8px;font-size:4.5px;color:#2fb688;font-weight:400;transform:translate(0,-50%);">10%</span>
<span class="t" style="left:337.8px;top:320.8px;font-size:5.3px;color:#9ea4b1;font-weight:400;transform:translate(0,-50%);">Period</span>
<span class="t" style="left:337.8px;top:330.7px;font-size:6.9px;color:#292c35;font-weight:400;transform:translate(0,-50%);">Month</span>
<svg class="b" style="left:358.4px;top:329.2px;" width="4" height="2.8" viewBox="0 0 4 2.8"><path d="M0.2 0.3 H3.8 L2 2.6 Z" fill="#23262f"/></svg>
<span class="t" style="left:189.15px;top:396.8px;font-size:5.1px;color:#9da3b0;font-weight:400;transform:translate(-50%,-50%);">Jan</span>
<span class="t" style="left:213.08px;top:396.8px;font-size:5.1px;color:#9da3b0;font-weight:400;transform:translate(-50%,-50%);">Feb</span>
<span class="t" style="left:237.01px;top:396.8px;font-size:5.1px;color:#9da3b0;font-weight:400;transform:translate(-50%,-50%);">Mar</span>
<span class="t" style="left:260.94px;top:396.8px;font-size:5.1px;color:#9da3b0;font-weight:400;transform:translate(-50%,-50%);">Apr</span>
<span class="t" style="left:284.87px;top:396.8px;font-size:5.1px;color:#9da3b0;font-weight:400;transform:translate(-50%,-50%);">May</span>
<span class="t" style="left:308.8px;top:396.8px;font-size:5.1px;color:#9da3b0;font-weight:400;transform:translate(-50%,-50%);">Jun</span>
<span class="t" style="left:332.73px;top:396.8px;font-size:5.1px;color:#9da3b0;font-weight:400;transform:translate(-50%,-50%);">Jul</span>
<span class="t" style="left:356.66px;top:396.8px;font-size:5.1px;color:#9da3b0;font-weight:400;transform:translate(-50%,-50%);">Aug</span>
<span class="t" style="left:380.59px;top:396.8px;font-size:5.1px;color:#9da3b0;font-weight:400;transform:translate(-50%,-50%);">Sep</span>
<span class="t" style="left:404.52px;top:396.8px;font-size:5.1px;color:#9da3b0;font-weight:400;transform:translate(-50%,-50%);">Oct</span>
<span class="t" style="left:428.45px;top:396.8px;font-size:5.1px;color:#9da3b0;font-weight:400;transform:translate(-50%,-50%);">Nov</span>
<span class="t" style="left:452.38px;top:396.8px;font-size:5.1px;color:#9da3b0;font-weight:400;transform:translate(-50%,-50%);">Dec</span>
<svg class="b" style="left:176px;top:345px;" width="288" height="45" viewBox="176 345 288 45"><rect x="184.15" y="356.15" width="10" height="29.20" rx="0.3" fill="#2039da" stroke="#0f22a6" stroke-width="0.8"/><rect x="207.73" y="372.50" width="10.7" height="13.20" rx="0.6" fill="#e9ebfa"/><rect x="232.01" y="363.85" width="10" height="21.50" rx="0.3" fill="#2039da" stroke="#0f22a6" stroke-width="0.8"/><rect x="255.84" y="366.35" width="10.2" height="19.10" rx="0.5" fill="#2fb688" stroke="#27a67b" stroke-width="0.5"/><rect x="279.52" y="365.30" width="10.7" height="20.40" rx="0.6" fill="#e9ebfa"/><rect x="303.80" y="352.85" width="10" height="32.50" rx="0.3" fill="#2039da" stroke="#0f22a6" stroke-width="0.8"/><rect x="327.38" y="355.80" width="10.7" height="29.90" rx="0.6" fill="#e9ebfa"/><rect x="351.56" y="372.75" width="10.2" height="12.70" rx="0.5" fill="#2fb688" stroke="#27a67b" stroke-width="0.5"/><rect x="375.59" y="364.35" width="10" height="21.00" rx="0.3" fill="#2039da" stroke="#0f22a6" stroke-width="0.8"/><rect x="399.17" y="368.90" width="10.7" height="16.80" rx="0.6" fill="#e9ebfa"/><rect x="423.45" y="366.45" width="10" height="18.90" rx="0.3" fill="#2039da" stroke="#0f22a6" stroke-width="0.8"/><rect x="447.28" y="354.05" width="10.2" height="31.40" rx="0.5" fill="#2fb688" stroke="#27a67b" stroke-width="0.5"/></svg>
<div class="card" style="left:482px;top:30px;width:113px;height:138.3px;box-shadow:0 1px 5px rgba(100,115,160,.14)"></div>
<span class="t" style="left:488px;top:40.3px;font-size:6.1px;color:#23262f;font-weight:400;transform:translate(0,-50%);-webkit-text-stroke:0.09px currentColor;">Data Target</span>
<span class="t" style="left:488px;top:48.8px;font-size:4.6px;color:#dde0e7;font-weight:400;transform:translate(0,-50%);">Company data revenue target</span>
<svg class="b" style="left:582.6px;top:39.7px;" width="6.5" height="2" viewBox="0 0 6.5 2"><circle cx="0.8500000000000001" cy="1" r="0.65" fill="#3a3e48"/><circle cx="3.25" cy="1" r="0.65" fill="#3a3e48"/><circle cx="5.65" cy="1" r="0.65" fill="#3a3e48"/></svg>
<svg class="b" style="left:482px;top:55px;" width="113" height="66" viewBox="482 55 113 66"><defs><linearGradient id="gg" gradientUnits="userSpaceOnUse" x1="492" y1="113" x2="575" y2="75">
<stop offset="0" stop-color="#1226d8"/><stop offset="0.1" stop-color="#2a40de"/><stop offset="0.3" stop-color="#6a7eec"/><stop offset="0.62" stop-color="#4a60e4"/><stop offset="1" stop-color="#2035d4"/></linearGradient></defs>
<path d="M492.1 113.3 A46.9 46.9 0 0 1 585.9 113.3" fill="none" stroke="#ecedf1" stroke-width="2.4" stroke-linecap="round"/>
<path d="M492.1 113.3 A46.9 46.9 0 0 1 572.73 80.71" fill="none" stroke="url(#gg)" stroke-width="5" stroke-linecap="round"/></svg>
<span class="t" style="left:537.8px;top:96.2px;font-size:9.8px;color:#23262f;font-weight:400;transform:translate(-50%,-50%);">75.55%</span>
<span class="t" style="left:517.1px;top:106.5px;font-size:4.8px;color:#2fb688;font-weight:400;transform:translate(0,-50%);">10%</span>
<svg class="b" style="left:528.0px;top:104.6px;" width="3.4" height="2.8" viewBox="0 0 3.4 2.8"><path d="M1.7 0.3 L3.2 2.6 L0.2 2.6 Z" fill="#2fb688"/></svg>
<span class="t" style="left:533.6px;top:106.6px;font-size:5.2px;color:#878e9d;font-weight:400;transform:translate(0,-50%);">+$150 today</span>
<span class="t" style="left:538.6px;top:126.0px;font-size:4.9px;color:#747b8a;font-weight:400;transform:translate(-50%,-50%);">You succeed earn&nbsp; <b style="color:#23262f">$150</b> &nbsp;today, its higher than</span>
<span class="t" style="left:538.9px;top:133.3px;font-size:4.9px;color:#747b8a;font-weight:400;transform:translate(-50%,-50%);">yesterday</span>
<span class="t" style="left:507.1px;top:147.5px;font-size:5px;color:#c4c8d3;font-weight:400;transform:translate(-50%,-50%);">Target</span>
<span class="t" style="left:539.7px;top:147.5px;font-size:5px;color:#c4c8d3;font-weight:400;transform:translate(-50%,-50%);">Revenue</span>
<span class="t" style="left:571.5px;top:147.5px;font-size:5px;color:#c4c8d3;font-weight:400;transform:translate(-50%,-50%);">This Week</span>
<span class="t" style="left:494.6px;top:158.2px;font-size:6.7px;color:#23262f;font-weight:400;transform:translate(0,-50%);">$100k</span>
<span class="t" style="left:528.4px;top:158.2px;font-size:6.7px;color:#23262f;font-weight:400;transform:translate(0,-50%);">$75k</span>
<span class="t" style="left:559.7px;top:158.2px;font-size:6.7px;color:#23262f;font-weight:400;transform:translate(0,-50%);">$1.5k</span>
<svg class="b" style="left:517.3px;top:155.3px;" width="3.4" height="2.8" viewBox="0 0 3.4 2.8"><path d="M1.7 0.3 L3.2 2.6 L0.2 2.6 Z" fill="#2fb688"/></svg>
<svg class="b" style="left:548.6px;top:155.3px;" width="3.4" height="2.8" viewBox="0 0 3.4 2.8"><path d="M1.7 2.6 L3.2 0.3 L0.2 0.3 Z" fill="#e0454f"/></svg>
<svg class="b" style="left:580.3px;top:155.3px;" width="3.4" height="2.8" viewBox="0 0 3.4 2.8"><path d="M1.7 0.3 L3.2 2.6 L0.2 2.6 Z" fill="#2fb688"/></svg>
<div class="card" style="left:482px;top:177px;width:113px;height:239px;box-shadow:0 1px 5px rgba(100,115,160,.14)"></div>
<span class="t" style="left:488px;top:186.2px;font-size:6.1px;color:#23262f;font-weight:400;transform:translate(0,-50%);-webkit-text-stroke:0.09px currentColor;">Company workplan list</span>
<span class="t" style="left:488px;top:195.7px;font-size:4.6px;color:#dde0e7;font-weight:400;transform:translate(0,-50%);">Company data revenue target</span>
<div class="b" style="left:488px;top:207.1px;width:101.8px;height:12.5px;border-radius:2px;background:#f0f1f4"></div>
<div class="b" style="left:489.3px;top:208.2px;width:51.6px;height:10.3px;border-radius:1.6px;background:#fff"></div>
<span class="t" style="left:515.4px;top:213.9px;font-size:4.5px;color:#2a3fd0;font-weight:400;transform:translate(-50%,-50%);">All</span>
<span class="t" style="left:564px;top:213.9px;font-size:4.4px;color:#8b92a1;font-weight:400;transform:translate(-50%,-50%);">Importants</span>
<div class="inner" style="left:488px;top:227.8px;width:101.8px;height:37.4px"></div>
<div class="b" style="left:492px;top:232.4px;width:11.8px;height:11.7px;border-radius:2px;background:#e6ebfc"></div>
<svg class="b" style="left:492px;top:232.4px;" width="11.8" height="11.7" viewBox="0 0 11.8 11.7"><rect x="4.1" y="2.9" width="3.6" height="5.9" rx="0.6" fill="#1428b8"/><rect x="4.8" y="3.9" width="2.2" height="3.4" fill="#4a62e6"/></svg>
<span class="t" style="left:507.6px;top:238.5px;font-size:5.1px;color:#2d3038;font-weight:400;transform:translate(0,-50%);">Mobile UI Kit</span>
<svg class="b" style="left:491.7px;top:249.60000000000002px;" width="4" height="4" viewBox="0 0 4 4"><circle cx="2" cy="2" r="1.6" fill="#fff" stroke="#d9dce4" stroke-width="0.4"/></svg>
<span class="t" style="left:498px;top:252.1px;font-size:4.2px;color:#757c8b;font-weight:400;transform:translate(0,-50%);">23 Tasks</span>
<svg class="b" style="left:491.7px;top:257.3px;" width="4" height="4" viewBox="0 0 4 4"><circle cx="2" cy="2" r="1.8" fill="#22a845"/><path d="M1.2 2 L1.8 2.6 L2.9 1.4" fill="none" stroke="#fff" stroke-width="0.5"/></svg>
<span class="t" style="left:498px;top:259.8px;font-size:4.2px;color:#757c8b;font-weight:400;transform:translate(0,-50%);">14 Done</span>
<svg class="b" style="left:555.7px;top:230.3px;" width="32" height="32" viewBox="555.7 230.3 32 32"><circle cx="571.7" cy="246.3" r="14.1" fill="#fff" stroke="#f0f2f6" stroke-width="1.5"/><path d="M565.30 233.74 A14.1 14.1 0 1 1 561.22 255.73" fill="none" stroke="#1428b8" stroke-width="1.45" stroke-linecap="round"/></svg>
<span class="t" style="left:572.3px;top:244.8px;font-size:5px;color:#2d3038;font-weight:400;transform:translate(-50%,-50%);">68%</span>
<span class="t" style="left:572.3px;top:251.8px;font-size:4.2px;color:#757c8b;font-weight:400;transform:translate(-50%,-50%);">Done</span>
<div class="inner" style="left:488px;top:273px;width:101.8px;height:37.4px"></div>
<div class="b" style="left:492px;top:277.6px;width:11.8px;height:11.7px;border-radius:2px;background:#e2f6ef"></div>
<svg class="b" style="left:492px;top:277.6px;" width="11.8" height="11.7" viewBox="0 0 11.8 11.7"><rect x="3.2" y="3.2" width="5.4" height="3.8" rx="0.6" fill="#25a87b"/><path d="M3.2 7.3 H8.6 V8.6 L7.7 8 L6.8 8.6 L5.9 8 L5 8.6 L4.1 8 L3.2 8.6 Z" fill="#25a87b"/><rect x="4.2" y="4.3" width="3.4" height="0.8" fill="#c8f0e2"/></svg>
<span class="t" style="left:507.6px;top:284.7px;font-size:5.1px;color:#2d3038;font-weight:400;transform:translate(0,-50%);">Landing Page</span>
<svg class="b" style="left:491.7px;top:294.8px;" width="4" height="4" viewBox="0 0 4 4"><circle cx="2" cy="2" r="1.6" fill="#fff" stroke="#d9dce4" stroke-width="0.4"/></svg>
<span class="t" style="left:498px;top:297.3px;font-size:4.2px;color:#757c8b;font-weight:400;transform:translate(0,-50%);">10 Tasks</span>
<svg class="b" style="left:491.7px;top:302.5px;" width="4" height="4" viewBox="0 0 4 4"><circle cx="2" cy="2" r="1.8" fill="#22a845"/><path d="M1.2 2 L1.8 2.6 L2.9 1.4" fill="none" stroke="#fff" stroke-width="0.5"/></svg>
<span class="t" style="left:498px;top:305.0px;font-size:4.2px;color:#757c8b;font-weight:400;transform:translate(0,-50%);">20 Done</span>
<svg class="b" style="left:555.7px;top:275.5px;" width="32" height="32" viewBox="555.7 275.5 32 32"><circle cx="571.7" cy="291.5" r="14.1" fill="#fff" stroke="#f0f2f6" stroke-width="1.5"/><path d="M568.53 277.76 A14.1 14.1 0 1 1 569.25 305.39" fill="none" stroke="#2fb688" stroke-width="1.45" stroke-linecap="round"/></svg>
<span class="t" style="left:572.3px;top:290.0px;font-size:5px;color:#2d3038;font-weight:400;transform:translate(-50%,-50%);">50%</span>
<span class="t" style="left:572.3px;top:297.0px;font-size:4.2px;color:#757c8b;font-weight:400;transform:translate(-50%,-50%);">Done</span>
<div class="inner" style="left:488px;top:318.2px;width:101.8px;height:37.4px"></div>
<div class="b" style="left:492px;top:322.8px;width:11.8px;height:11.7px;border-radius:2px;background:#f0e4fb"></div>
<svg class="b" style="left:492px;top:322.8px;" width="11.8" height="11.7" viewBox="0 0 11.8 11.7"><rect x="3" y="4.4" width="3" height="3" rx="0.5" fill="#7a1fd6"/><rect x="6.5" y="3.2" width="2.3" height="2.3" rx="0.4" fill="#7a1fd6"/><rect x="6.5" y="5.9" width="2.3" height="2.8" rx="0.4" fill="#7a1fd6"/></svg>
<span class="t" style="left:507.6px;top:329.9px;font-size:5.1px;color:#2d3038;font-weight:400;transform:translate(0,-50%);">Config Server</span>
<svg class="b" style="left:491.7px;top:340.0px;" width="4" height="4" viewBox="0 0 4 4"><circle cx="2" cy="2" r="1.6" fill="#fff" stroke="#d9dce4" stroke-width="0.4"/></svg>
<span class="t" style="left:498px;top:342.0px;font-size:4.2px;color:#757c8b;font-weight:400;transform:translate(0,-50%);">10 Tasks</span>
<svg class="b" style="left:491.7px;top:347.7px;" width="4" height="4" viewBox="0 0 4 4"><circle cx="2" cy="2" r="1.8" fill="#22a845"/><path d="M1.2 2 L1.8 2.6 L2.9 1.4" fill="none" stroke="#fff" stroke-width="0.5"/></svg>
<span class="t" style="left:498px;top:350.2px;font-size:4.2px;color:#757c8b;font-weight:400;transform:translate(0,-50%);">20 Done</span>
<svg class="b" style="left:555.7px;top:320.7px;" width="32" height="32" viewBox="555.7 320.7 32 32"><circle cx="571.7" cy="336.7" r="14.1" fill="#fff" stroke="#f0f2f6" stroke-width="1.5"/><path d="M568.53 322.96 A14.1 14.1 0 1 1 569.25 350.59" fill="none" stroke="#7a1fd6" stroke-width="1.45" stroke-linecap="round"/></svg>
<span class="t" style="left:572.3px;top:335.2px;font-size:5px;color:#2d3038;font-weight:400;transform:translate(-50%,-50%);">50%</span>
<span class="t" style="left:572.3px;top:342.2px;font-size:4.2px;color:#757c8b;font-weight:400;transform:translate(-50%,-50%);">Done</span>
<div class="inner" style="left:488px;top:363.4px;width:101.8px;height:37.4px"></div>
<div class="b" style="left:492px;top:368.0px;width:11.8px;height:11.7px;border-radius:2px;background:#e3f0fb"></div>
<svg class="b" style="left:492px;top:368.0px;" width="11.8" height="11.7" viewBox="0 0 11.8 11.7"><rect x="4.2" y="3" width="3.4" height="5.7" rx="0.6" fill="#2b95d8"/><rect x="4.9" y="3.9" width="2" height="3.4" fill="#6cc0f0"/></svg>
<span class="t" style="left:507.6px;top:375.1px;font-size:5.1px;color:#2d3038;font-weight:400;transform:translate(0,-50%);">Mobile Apps</span>
<svg class="b" style="left:491.7px;top:385.2px;" width="4" height="4" viewBox="0 0 4 4"><circle cx="2" cy="2" r="1.6" fill="#fff" stroke="#d9dce4" stroke-width="0.4"/></svg>
<span class="t" style="left:498px;top:387.7px;font-size:4.2px;color:#757c8b;font-weight:400;transform:translate(0,-50%);">10 Tasks</span>
<svg class="b" style="left:491.7px;top:392.9px;" width="4" height="4" viewBox="0 0 4 4"><circle cx="2" cy="2" r="1.8" fill="#22a845"/><path d="M1.2 2 L1.8 2.6 L2.9 1.4" fill="none" stroke="#fff" stroke-width="0.5"/></svg>
<span class="t" style="left:498px;top:395.4px;font-size:4.2px;color:#757c8b;font-weight:400;transform:translate(0,-50%);">20 Done</span>
<svg class="b" style="left:555.7px;top:365.9px;" width="32" height="32" viewBox="555.7 365.9 32 32"><circle cx="571.7" cy="381.9" r="14.1" fill="#fff" stroke="#f0f2f6" stroke-width="1.5"/><path d="M568.53 368.16 A14.1 14.1 0 1 1 569.25 395.79" fill="none" stroke="#2b95d8" stroke-width="1.45" stroke-linecap="round"/></svg>
<span class="t" style="left:572.3px;top:380.9px;font-size:5px;color:#2d3038;font-weight:400;transform:translate(-50%,-50%);">50%</span>
<span class="t" style="left:572.3px;top:387.4px;font-size:4.2px;color:#757c8b;font-weight:400;transform:translate(-50%,-50%);">Done</span>
</div></body></html>
